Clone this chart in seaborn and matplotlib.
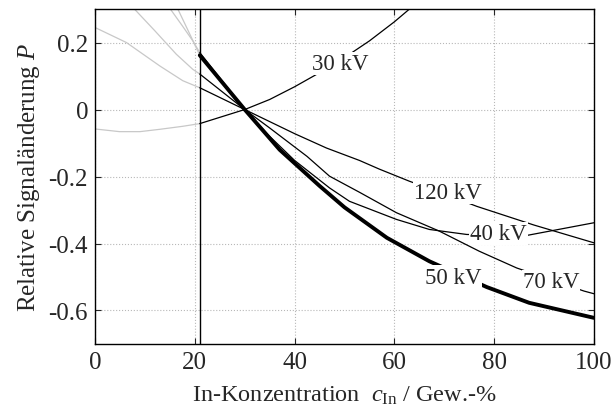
import numpy as np
import pandas as pd
import matplotlib
matplotlib.use("Agg")
import matplotlib.pyplot as plt
import seaborn as sns

# ---- data ----
labels = ["30 kV", "40 kV", "50 kV", "70 kV", "120 kV"]

# measured range (x >= 21), black
x30 = [21, 30, 35, 40, 45, 50, 55, 60, 65]
y30 = [-0.042, 0.0, 0.03, 0.068, 0.11, 0.155, 0.205, 0.262, 0.325]
x40 = [21, 30, 35, 40, 47, 51, 60.4, 67, 74.5, 86.5, 100]
y40 = [0.17, 0.0, -0.08, -0.152, -0.234, -0.274, -0.328, -0.358, -0.373, -0.376, -0.338]
x50 = [21, 30, 37, 45, 50, 58.5, 67, 78.5, 87, 100]
y50 = [0.162, 0.0, -0.12, -0.228, -0.292, -0.383, -0.453, -0.53, -0.577, -0.622]
x70 = [21, 30, 35, 42.5, 47, 53, 60.4, 69, 77, 84.5, 98, 100]
y70 = [0.106, 0.0, -0.055, -0.14, -0.199, -0.247, -0.308, -0.363, -0.423, -0.473, -0.542, -0.55]
x120 = [21, 30, 40, 46.4, 53, 57, 63, 70, 76.5, 88, 100]
y120 = [0.065, 0.0, -0.072, -0.115, -0.152, -0.178, -0.214, -0.252, -0.289, -0.345, -0.398]

# extrapolated range (x <= 21), grey
gx30 = [0, 4.9, 9, 13, 17.6, 21]
gy30 = [-0.058, -0.066, -0.066, -0.059, -0.05, -0.042]
gx40 = [14.5, 15.1, 17.5, 19.6, 21]
gy40 = [0.312, 0.3, 0.25, 0.205, 0.17]
gx50 = [16.0, 16.6, 19.0, 21]
gy50 = [0.315, 0.3, 0.225, 0.162]
gx70 = [7.0, 7.9, 12, 16.3, 19.6, 21]
gy70 = [0.312, 0.3, 0.235, 0.165, 0.12, 0.106]
gx120 = [0, 6.3, 13, 17.6, 21]
gy120 = [0.245, 0.2, 0.13, 0.086, 0.065]

# inline label positions
lab_x = [49.1, 80.8, 71.7, 91.4, 70.8]
lab_y = [0.137, -0.370, -0.500, -0.513, -0.247]

x_ticks = [0, 20, 40, 60, 80, 100]
y_ticks = [-0.6, -0.4, -0.2, 0, 0.2]
y_ticklabels = ["-0.6", "-0.4", "-0.2", "0", "0.2"]
x_boundary = 21

# ---- style ----
sns.set_style("white")
plt.rcParams["font.family"] = ["Liberation Serif", "DejaVu Serif"]
plt.rcParams["mathtext.fontset"] = "custom"
plt.rcParams["mathtext.rm"] = "Liberation Serif"
plt.rcParams["mathtext.it"] = "Liberation Serif:italic"
plt.rcParams["axes.unicode_minus"] = False

fig = plt.figure(figsize=(6.13, 4.14), dpi=100)
ax = fig.add_axes([0.155, 0.1667, 0.814, 0.809])

black = [(x30, y30), (x40, y40), (x50, y50), (x70, y70), (x120, y120)]
grey = [(gx30, gy30), (gx40, gy40), (gx50, gy50), (gx70, gy70), (gx120, gy120)]

for lab, (gx, gy) in zip(labels, grey):
    df = pd.DataFrame({"x": gx, "y": gy})
    sns.lineplot(data=df, x="x", y="y", ax=ax, color="#c8c8c8", lw=0.9,
                 sort=False, estimator=None, zorder=2)

for lab, (bx, by) in zip(labels, black):
    df = pd.DataFrame({"x": bx, "y": by})
    lw = 2.8 if lab == "50 kV" else 0.9
    sns.lineplot(data=df, x="x", y="y", ax=ax, color="black", lw=lw,
                 sort=False, estimator=None, zorder=3)

ax.axvline(x_boundary, color="black", lw=1.0, zorder=4)

for lab, lx, ly in zip(labels, lab_x, lab_y):
    ax.text(lx, ly, lab, fontsize=16.5, ha="center", va="center", zorder=5,
            bbox=dict(boxstyle="square,pad=0.05", fc="white", ec="none"))

ax.set_xlim(0, 100)
ax.set_ylim(-0.7, 0.3)
ax.set_xticks(x_ticks)
ax.set_xticklabels([str(v) for v in x_ticks])
ax.set_yticks(y_ticks)
ax.set_yticklabels(y_ticklabels)
ax.grid(True, linestyle=":", color="#b8b8b8", lw=0.8)
ax.set_axisbelow(True)
ax.tick_params(direction="in", length=4, width=0.8, labelsize=18,
               top=True, right=True, bottom=True, left=True, pad=5)
for sp in ax.spines.values():
    sp.set_visible(True)
    sp.set_color("black")
    sp.set_linewidth(1.0)

ax.set_xlabel(r"In-Konzentration  $c_{\mathrm{In}}$ / Gew.-%", fontsize=17.5, labelpad=8)
ax.set_ylabel(r"Relative Signaländerung $P$", fontsize=18, labelpad=5)

fig.savefig("out.png", dpi=100)
